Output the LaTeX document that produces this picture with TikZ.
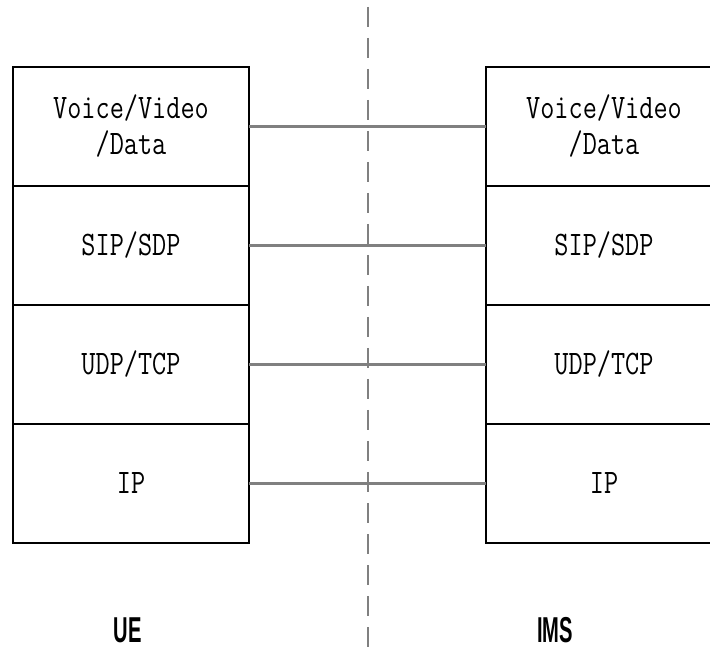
\documentclass[tikz,border=0pt]{standalone}
\usepackage{fontspec}
\setsansfont{Liberation Sans}
\usepackage{graphicx}
\usetikzlibrary{positioning}
\newcommand{\tall}[1]{\scalebox{1}[1.25]{#1}}
\newcommand{\narrow}[1]{\scalebox{0.56}[1]{#1}}
\tikzset{
    layer/.style = {draw, rectangle, line width=1.1pt,
        minimum width=177pt,
        minimum height=89.25pt,
        inner sep=0pt, outer sep=0pt, align=center,
        font=\ttfamily\fontsize{20.6}{27}\selectfont},
    peer/.style = {draw=gray, line width=1.6pt},
    divider/.style = {draw=gray, line width=1.6pt, dash pattern=on 15pt off 8.25pt},
    side/.style = {font=\sffamily\bfseries\fontsize{27}{30}\selectfont}
}
\begin{document}
\begin{tikzpicture}[x=0.75pt,y=-0.75pt]
    \useasboundingbox (0,0) rectangle (710,655);
    \clip (0,0) rectangle (710,655);
    % UE stack
    \node[layer] (ue1) at (131,126.5) {\tall{Voice/Video}\\\tall{/Data}};
    \node[layer,below=0pt of ue1] (ue2) {\tall{SIP/SDP}};
    \node[layer,below=0pt of ue2] (ue3) {\tall{UDP/TCP}};
    \node[layer,below=0pt of ue3] (ue4) {\tall{IP}};
    % IMS stack
    \node[layer] (ims1) at (604,126.5) {\tall{Voice/Video}\\\tall{/Data}};
    \node[layer,below=0pt of ims1] (ims2) {\tall{SIP/SDP}};
    \node[layer,below=0pt of ims2] (ims3) {\tall{UDP/TCP}};
    \node[layer,below=0pt of ims3] (ims4) {\tall{IP}};
    % peer links
    \foreach \i in {1,...,4}
        \draw[peer] (ue\i.east) -- (ims\i.west);
    % divider
    \coordinate (top) at (368,7);
    \coordinate (bottom) at (368,655);
    \draw[divider] (top) -- (bottom);
    % sides
    \node[side] (ue) at (128,630) {\narrow{UE}};
    \node[side] (ims) at (555,630) {\narrow{IMS}};
\end{tikzpicture}
\end{document}
